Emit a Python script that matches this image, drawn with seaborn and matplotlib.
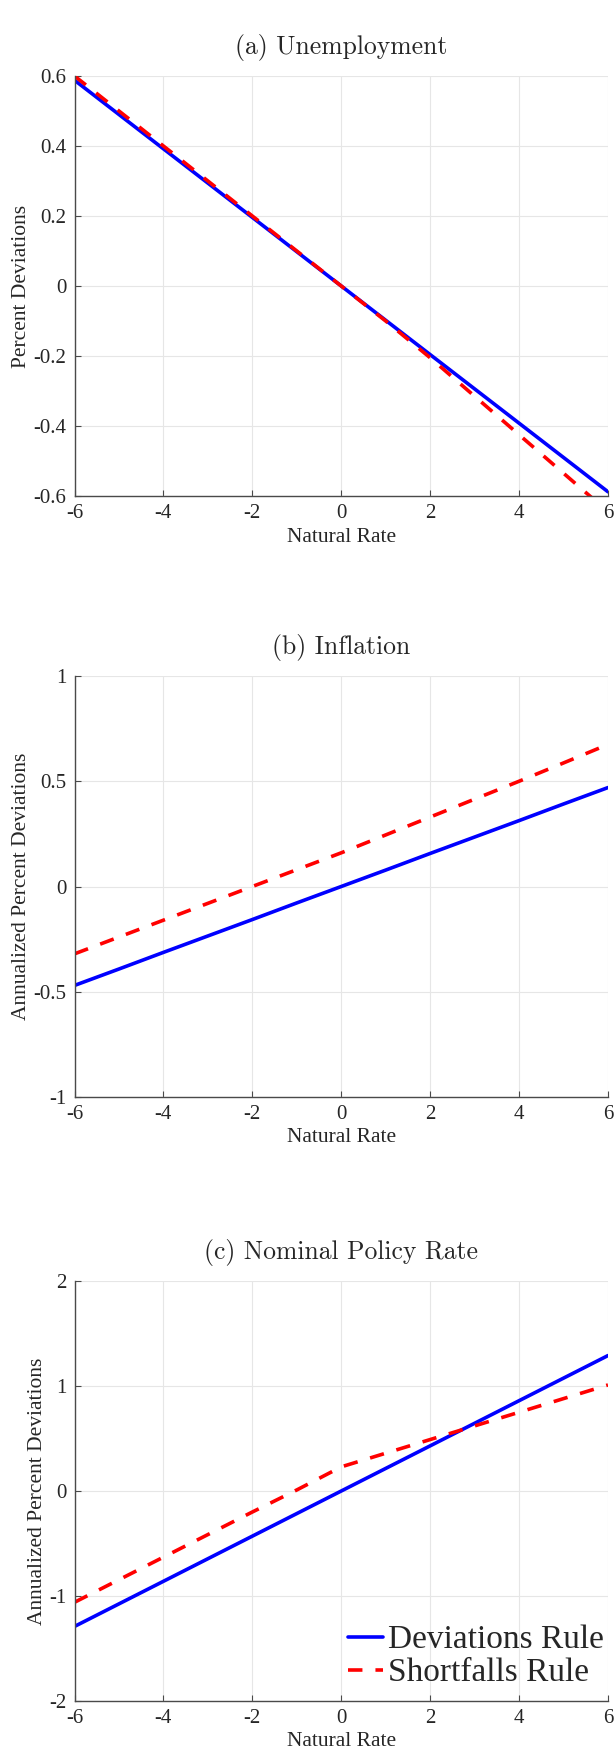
import numpy as np
import pandas as pd
import matplotlib
matplotlib.use("Agg")
import matplotlib.pyplot as plt
import seaborn as sns

# Natural-rate grid shared by all panels
natural_rate = [-6, -5, -4, -3, -2, -1, 0, 1, 2, 3, 4, 5, 6]

# (a) Unemployment, percent deviations
unemp_deviations = [0.588, 0.490, 0.392, 0.294, 0.196, 0.098, 0.0, -0.098, -0.196, -0.294, -0.392, -0.490, -0.588]
unemp_shortfalls = [0.600, 0.500, 0.400, 0.300, 0.200, 0.100, 0.0, -0.100, -0.205, -0.315, -0.425, -0.535, -0.645]

# (b) Inflation, annualized percent deviations
infl_deviations = [-0.470, -0.392, -0.313, -0.235, -0.157, -0.078, 0.0, 0.078, 0.157, 0.235, 0.313, 0.392, 0.470]
infl_shortfalls = [-0.320, -0.240, -0.160, -0.080, 0.000, 0.080, 0.160, 0.245, 0.330, 0.415, 0.500, 0.587, 0.675]

# (c) Nominal policy rate, annualized percent deviations
rate_deviations = [-1.290, -1.075, -0.860, -0.645, -0.430, -0.215, 0.0, 0.215, 0.430, 0.645, 0.860, 1.075, 1.290]
rate_shortfalls = [-1.060, -0.845, -0.630, -0.415, -0.200, 0.010, 0.230, 0.360, 0.490, 0.620, 0.750, 0.880, 1.010]

panel_titles = ["(a) Unemployment", "(b) Inflation", "(c) Nominal Policy Rate"]
y_labels = ["Percent Deviations", "Annualized Percent Deviations", "Annualized Percent Deviations"]
x_label = "Natural Rate"
legend_labels = ["Deviations Rule", "Shortfalls Rule"]

x_ticks = [-6, -4, -2, 0, 2, 4, 6]
y_tick_sets = [
    [-0.6, -0.4, -0.2, 0, 0.2, 0.4, 0.6],
    [-1, -0.5, 0, 0.5, 1],
    [-2, -1, 0, 1, 2],
]
y_tick_labels = [
    ["-0.6", "-0.4", "-0.2", "0", "0.2", "0.4", "0.6"],
    ["-1", "-0.5", "0", "0.5", "1"],
    ["-2", "-1", "0", "1", "2"],
]
x_tick_labels = ["-6", "-4", "-2", "0", "2", "4", "6"]

series = [
    (unemp_deviations, unemp_shortfalls),
    (infl_deviations, infl_shortfalls),
    (rate_deviations, rate_shortfalls),
]

sns.set_theme(style="whitegrid")
plt.rcParams["font.family"] = ["Liberation Serif", "DejaVu Serif"]
plt.rcParams["axes.unicode_minus"] = False

W, H = 615, 1752
fig = plt.figure(figsize=(W / 100, H / 100), dpi=100)

# axes boxes in pixels: (left, top, right, bottom)
boxes = [(74.5, 76, 608, 496), (74.5, 676, 608, 1097), (74.5, 1281, 608, 1701)]

axis_color = "#4a4a4a"
text_color = "#262626"

for i, (box, (dev, sho)) in enumerate(zip(boxes, series)):
    l, t, r, b = box
    ax = fig.add_axes([l / W, 1 - b / H, (r - l) / W, (b - t) / H])
    df = pd.DataFrame({"rate": natural_rate, "dev": dev, "sho": sho})
    sns.lineplot(data=df, x="rate", y="dev", ax=ax, color=(0, 0, 1), lw=2.6,
                 label=legend_labels[0], clip_on=True)
    sns.lineplot(data=df, x="rate", y="sho", ax=ax, color=(1, 0, 0), lw=2.6,
                 label=legend_labels[1], clip_on=True)
    ax.lines[1].set_dashes((4, 3.6))

    ax.set_xlim(-6, 6)
    ax.set_ylim(y_tick_sets[i][0], y_tick_sets[i][-1])
    ax.set_xticks(x_ticks)
    ax.set_xticklabels(x_tick_labels)
    ax.set_yticks(y_tick_sets[i])
    ax.set_yticklabels(y_tick_labels[i])

    ax.grid(True, color="#e6e6e6", lw=0.8)
    ax.set_facecolor("white")
    for side in ["top", "right"]:
        ax.spines[side].set_visible(False)
    for side in ["left", "bottom"]:
        ax.spines[side].set_color(axis_color)
        ax.spines[side].set_linewidth(1.0)
    ax.tick_params(axis="both", direction="in", length=4, width=0.8,
                   colors=axis_color, labelcolor=text_color, labelsize=15,
                   left=True, bottom=True)
    ax.tick_params(axis="x", pad=6)
    ax.tick_params(axis="y", pad=6)

    ax.set_xlabel(x_label, fontsize=15.5, color=text_color, labelpad=3)
    ax.set_ylabel(y_labels[i], fontsize=15.5, color=text_color, labelpad=1.5)
    ax.set_title(panel_titles[i], fontsize=18.5, family="cmr10", color=text_color, pad=16)

    if i == 2:
        ax.legend(loc="lower right", bbox_to_anchor=(0.992, 0.03), frameon=False,
                  fontsize=24, handlelength=1.05, handletextpad=0.15,
                  labelspacing=0.08, borderaxespad=0.0, borderpad=0.0)
    else:
        ax.get_legend().remove()

fig.savefig("out.png", dpi=100, facecolor="white")
